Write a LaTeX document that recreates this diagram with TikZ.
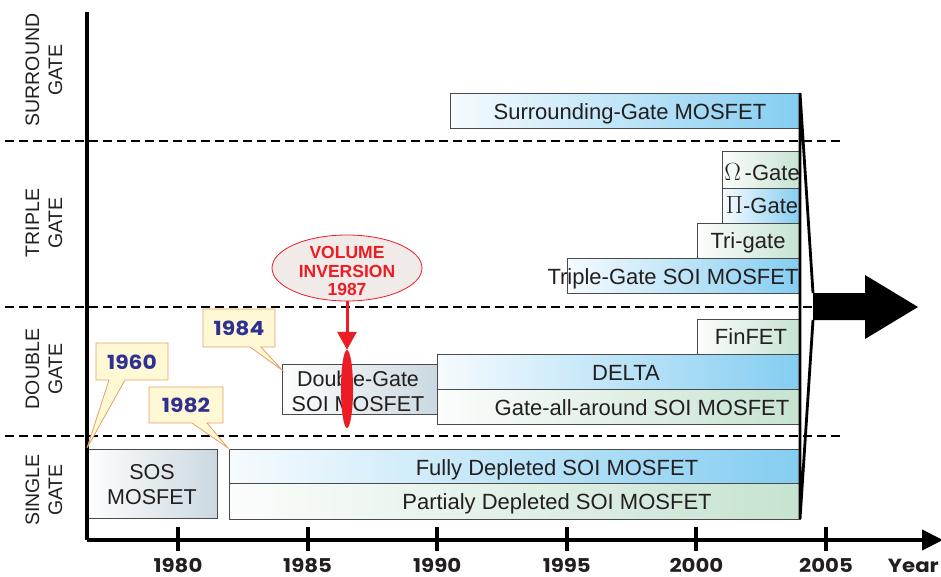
\documentclass[tikz,border=0pt]{standalone}
\usepackage{fontspec}
\setmainfont{Liberation Sans}
\newfontfamily\yearfont{Poppins}[FakeStretch=1.12]
\usetikzlibrary{arrows.meta,shapes.geometric}
\definecolor{txt}{HTML}{231F20}
\definecolor{boxline}{HTML}{4A4A4A}
\definecolor{blueR}{HTML}{84CDF1}
\definecolor{blueL}{HTML}{F6FBFE}
\definecolor{greenR}{HTML}{C6E3D0}
\definecolor{greenL}{HTML}{FBFDFC}
\definecolor{grayR}{HTML}{CBD8E0}
\definecolor{grayL}{HTML}{FDFEFE}
\definecolor{callfill}{HTML}{FFF8D4}
\definecolor{callline}{HTML}{E3A06A}
\definecolor{callblue}{HTML}{2E3192}
\definecolor{vred}{HTML}{ED1C24}
\definecolor{vfill}{HTML}{F0EAE8}
\begin{document}
\begin{tikzpicture}[x=1pt,y=-1pt,
  basebox/.style={draw=boxline, line width=0.8pt, anchor=north west, inner sep=0pt},
  bluebox/.style={basebox, left color=blueL, right color=blueR},
  greenbox/.style={basebox, left color=greenL, right color=greenR},
  graybox/.style={basebox, left color=grayL, right color=grayR},
  boxtext/.style={font=\fontsize{22}{24}\selectfont, text=txt, inner sep=0pt, anchor=base},
  twoline/.style={font=\fontsize{21.5}{25}\selectfont, text=txt, inner sep=0pt, align=center},
  rowlabel/.style={font=\fontsize{19.5}{23}\selectfont, text=txt, inner sep=0pt, align=center, rotate=90},
  yearlabel/.style={font=\yearfont\bfseries\fontsize{19}{20}\selectfont, text=txt, inner sep=0pt},
  calltext/.style={font=\yearfont\bfseries\fontsize{19.5}{20}\selectfont, text=callblue, inner sep=0pt},
  callout/.style={fill=callfill, draw=callline, line width=0.8pt, line join=miter},
  divider/.style={dash pattern=on 9pt off 5pt, line width=1.5pt, black},
  axisline/.style={line width=4pt, black},
  bracket/.style={line width=2.8pt, black, line join=miter}
]
\useasboundingbox (0,0) rectangle (941,577);

% dashed dividers
\coordinate (d1a) at (5,141);  \coordinate (d1b) at (840,141);
\coordinate (d2a) at (5,307);  \coordinate (d2b) at (840,307);
\coordinate (d3a) at (5,436);  \coordinate (d3b) at (840,436);
\draw[divider] (d1a) -- (d1b);
\draw[divider] (d2a) -- (d2b);
\draw[divider] (d3a) -- (d3b);

% row labels
\node[rowlabel] (lsur) at (44,70) {SURROUND\\GATE};
\node[rowlabel] (ltri) at (44,223) {TRIPLE\\GATE};
\node[rowlabel] (ldbl) at (44,369) {DOUBLE\\GATE};
\node[rowlabel] (lsgl) at (44,490) {SINGLE\\GATE};

% boxes
\node[bluebox, minimum width=350pt, minimum height=35pt] (sgb) at (450,93) {};
\node[boxtext] (sgt) at (630,120) {Surrounding-Gate MOSFET};

\node[greenbox, minimum width=78pt, minimum height=37pt] (omb) at (722,151) {};
\node[boxtext] (omt) at (762,181) {\fontsize{23}{24}\selectfont$\Omega$\,\fontsize{22}{24}\selectfont-Gate};
\node[bluebox, minimum width=78pt, minimum height=35pt] (pib) at (722,188) {};
\node[boxtext] (pit) at (762,214) {\fontsize{23}{24}\selectfont$\Pi$\fontsize{22}{24}\selectfont-Gate};
\node[greenbox, minimum width=103pt, minimum height=35pt] (trb) at (697,223) {};
\node[boxtext] (trt) at (748,248) {Tri-gate};
\node[bluebox, minimum width=233pt, minimum height=35pt] (tsb) at (567,258) {};
\node[boxtext] (tst) at (673,284) {Triple-Gate SOI MOSFET};

\node[greenbox, minimum width=103pt, minimum height=35pt] (finb) at (697,319) {};
\node[boxtext] (fint) at (751,344) {FinFET};
\node[bluebox, minimum width=363pt, minimum height=35pt] (delb) at (437,354) {};
\node[boxtext] (delt) at (626,380) {DELTA};
\node[greenbox, minimum width=363pt, minimum height=35pt] (gab) at (437,389) {};
\node[boxtext] (gat) at (642,415) {Gate-all-around SOI MOSFET};
\node[graybox, minimum width=155pt, minimum height=50pt] (dgb) at (282,364) {};
\node[twoline] (dgt) at (358,391) {Double-Gate\\SOI MOSFET};

\node[graybox, minimum width=130pt, minimum height=69pt] (sosb) at (87,449) {};
\node[twoline] (sost) at (152,485) {SOS\\MOSFET};
\node[bluebox, minimum width=571pt, minimum height=34pt] (fdb) at (229,449) {};
\node[boxtext] (fdt) at (557,475) {Fully Depleted SOI MOSFET};
\node[greenbox, minimum width=571pt, minimum height=36pt] (pdb) at (229,483) {};
\node[boxtext] (pdt) at (557,509) {Partialy Depleted SOI MOSFET};

% axes
\coordinate (ytop) at (87,12);
\coordinate (orig) at (87,540);
\coordinate (xend) at (941,540);
\draw[axisline] (ytop) -- (orig);
\draw[axisline, -{Triangle[length=21pt,width=20pt]}, shorten >=-2pt] (orig) -- (xend);
\foreach \yr/\nm in {1980/a,1985/b,1990/c,1995/d,2000/e,2005/f}{
  \pgfmathsetmacro{\xx}{178+(\yr-1980)*25.92}
  \coordinate (tk\nm) at (\xx,527);
  \coordinate (tb\nm) at (\xx,551);
  \draw[line width=4pt] (tk\nm) -- (tb\nm);
  \node[yearlabel, anchor=base] (yl\nm) at (\xx,572) {\yr};
}
\node[yearlabel, anchor=base east] (yearlbl) at (939,572) {Year};

% bracket and big arrow
\coordinate (bt) at (800,93);
\coordinate (bb) at (800,519);
\coordinate (bu) at (813,293);
\coordinate (bl) at (813,320);
\draw[bracket] (bu) -- (bt) -- (bb) -- (bl);
\fill[black] (813,293) -- (865,293) -- (865,275) -- (918,307) -- (865,339) -- (865,320) -- (813,320) -- cycle;

% callouts
\draw[callout] (96,343) -- (168,343) -- (168,380) -- (125,380) -- (87,448) -- (109,380) -- (96,380) -- cycle;
\node[calltext] (c60) at (132,362) {1960};
\draw[callout] (149,387) -- (223,387) -- (223,423) -- (207,423) -- (228,448) -- (192,423) -- (149,423) -- cycle;
\node[calltext] (c82) at (186,405) {1982};
\draw[callout] (203,309) -- (275,309) -- (275,347) -- (261,347) -- (282,370) -- (250,347) -- (203,347) -- cycle;
\node[calltext] (c84) at (239,328) {1984};

% volume inversion
\node[ellipse, draw=vred, line width=0.8pt, fill=vfill, minimum width=150pt, minimum height=66pt, inner sep=0pt] (vi) at (347,268) {};
\node[font=\bfseries\fontsize{17.5}{18.5}\selectfont, text=vred, align=center, inner sep=0pt] (vit) at (347,271) {VOLUME\\INVERSION\\1987};
\node[ellipse, fill=vred, minimum width=12pt, minimum height=78pt, inner sep=0pt] (vdot) at (347,389) {};
\draw[vred, line width=3pt, -{Triangle[length=18pt,width=19pt]}] (vi.south) -- (vdot.north);
\end{tikzpicture}
\end{document}
